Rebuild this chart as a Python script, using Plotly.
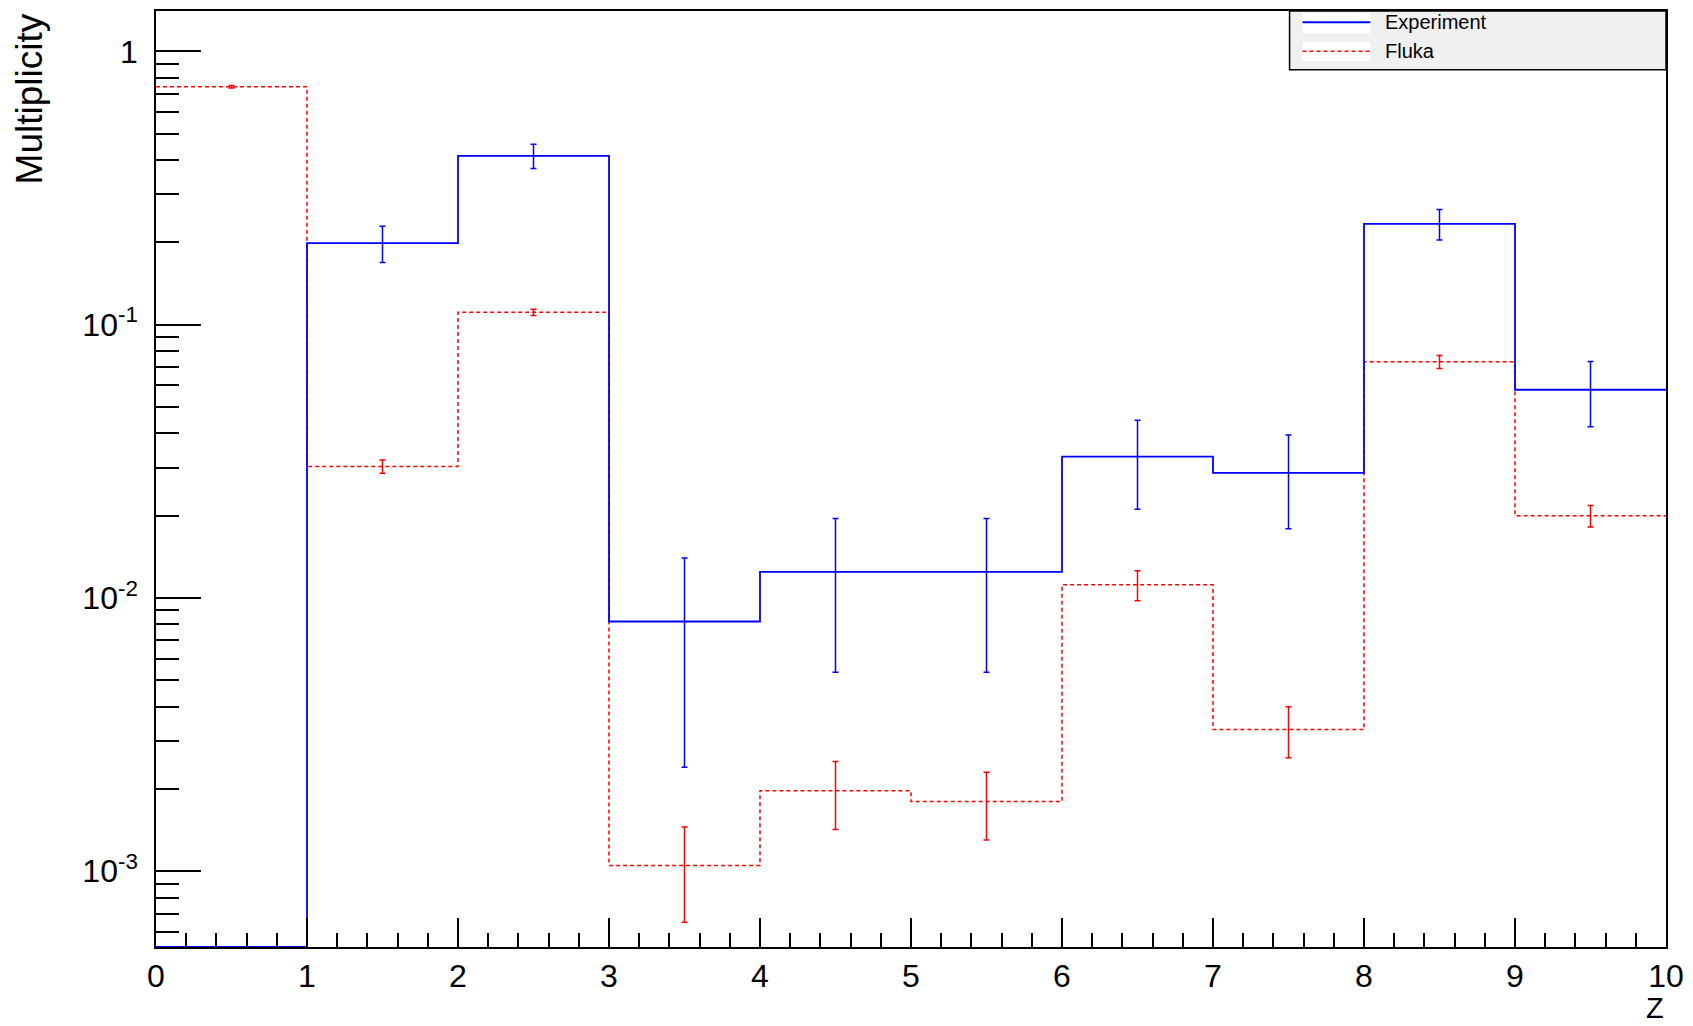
import plotly.graph_objects as go
import numpy as np

# ---- data ----
bin_edges = [0, 1, 2, 3, 4, 5, 6, 7, 8, 9, 10]
bin_centers = [0.5, 1.5, 2.5, 3.5, 4.5, 5.5, 6.5, 7.5, 8.5, 9.5]
experiment = [0.0, 0.199, 0.415, 0.0082, 0.01245, 0.01245, 0.0329, 0.0287, 0.234, 0.0578]
experiment_err = [0.0, 0.030, 0.042, 0.0058, 0.0071, 0.0071, 0.0118, 0.0108, 0.030, 0.0155]
fluka = [0.743, 0.0303, 0.111, 0.00105, 0.00197, 0.0018, 0.01117, 0.0033, 0.0732, 0.0200]
fluka_err = [0.008, 0.0017, 0.003, 0.0004, 0.00055, 0.0005, 0.0014, 0.0007, 0.004, 0.0018]
x_ticks = [0, 1, 2, 3, 4, 5, 6, 7, 8, 9, 10]
y_tickvals = [1e-3, 1e-2, 1e-1, 1]
y_ticktext = ["10<sup>-3</sup>", "10<sup>-2</sup>", "10<sup>-1</sup>", "1"]
series_names = ["Experiment", "Fluka"]

YMIN, YMAX = 5.28e-4, 1.406
FONT = "Liberation Sans Narrow, Liberation Sans, Arial, sans-serif"

def step(vals):
    v = [max(a, YMIN) for a in vals]
    return v + [v[-1]]

fig = go.Figure()

# Fluka histogram (drawn first)
fig.add_trace(go.Scatter(x=bin_edges, y=step(fluka), mode="lines", line_shape="hv",
                         line=dict(color="#ff0000", width=1.5, dash="4px,3px"),
                         showlegend=False, hoverinfo="skip"))
# Experiment histogram
fig.add_trace(go.Scatter(x=bin_edges, y=step(experiment), mode="lines", line_shape="hv",
                         line=dict(color="#0000ff", width=1.8),
                         showlegend=False, hoverinfo="skip"))

# error bars
fx = [c for c, v in zip(bin_centers, fluka) if v > 0]
fy = [v for v in fluka if v > 0]
fe = [e for e, v in zip(fluka_err, fluka) if v > 0]
fig.add_trace(go.Scatter(x=fx, y=fy, mode="markers", marker=dict(size=1, color="#ff0000"),
                         error_y=dict(type="data", array=fe, color="#ff0000", thickness=1.5, width=3),
                         showlegend=False))
ex = [c for c, v in zip(bin_centers, experiment) if v > 0]
ey = [v for v in experiment if v > 0]
ee = [e for e, v in zip(experiment_err, experiment) if v > 0]
fig.add_trace(go.Scatter(x=ex, y=ey, mode="markers", marker=dict(size=1, color="#0000ff"),
                         error_y=dict(type="data", array=ee, color="#0000ff", thickness=1.5, width=3),
                         showlegend=False))

minor_y = [m * 10 ** d for d in range(-4, 1) for m in range(2, 10)]

fig.update_xaxes(range=[0, 10], tickvals=x_ticks, ticktext=[str(t) for t in x_ticks],
                 ticks="inside", ticklen=29, tickwidth=1.5, tickcolor="black",
                 showline=True, linecolor="black", linewidth=1.5, mirror=True,
                 showgrid=False, zeroline=False,
                 tickfont=dict(family=FONT, size=32, color="black"),
                 minor=dict(dtick=0.2, tick0=0, ticks="inside", ticklen=14, tickwidth=1.5,
                            tickcolor="black", showgrid=False))
fig.update_yaxes(type="log", range=[np.log10(YMIN), np.log10(YMAX)],
                 tickmode="array", tickvals=y_tickvals, ticktext=y_ticktext,
                 ticks="inside", ticklen=45, tickwidth=1.5, tickcolor="black",
                 showline=True, linecolor="black", linewidth=1.5, mirror=True,
                 showgrid=False, zeroline=False, ticklabelstandoff=10,
                 tickfont=dict(family=FONT, size=32, color="black"),
                 minor=dict(tickmode="array", tickvals=minor_y, ticks="inside", ticklen=23,
                            tickwidth=1.5, tickcolor="black", showgrid=False))

# axis titles (ROOT style)
annotations = [
    dict(text="Multiplicity", textangle=-90, xref="paper", yref="paper",
         x=-0.0835, y=1.0, xanchor="center", yanchor="top", showarrow=False,
         font=dict(family=FONT, size=37, color="black")),
    dict(text="Z", xref="paper", yref="paper", x=1.0, y=-0.0842,
         xanchor="right", yanchor="bottom", showarrow=False,
         font=dict(family=FONT, size=29, color="black")),
]

# custom legend (ROOT TLegend look)
leg_x0, leg_x1, leg_y0, leg_y1 = 0.7507, 1.0, 0.9371, 1.0
samp_x0, samp_x1 = 0.7593, 0.8042
shapes = [
    dict(type="rect", xref="paper", yref="paper", x0=leg_x0, x1=leg_x1, y0=leg_y0, y1=leg_y1,
         fillcolor="#f0f0f0", line=dict(color="black", width=1.5), layer="above"),
    dict(type="rect", xref="paper", yref="paper", x0=samp_x0, x1=samp_x1, y0=0.9760, y1=0.9975,
         fillcolor="white", line=dict(width=0), layer="above"),
    dict(type="rect", xref="paper", yref="paper", x0=samp_x0, x1=samp_x1, y0=0.9465, y1=0.9670,
         fillcolor="white", line=dict(width=0), layer="above"),
    dict(type="line", xref="paper", yref="paper", x0=samp_x0, x1=samp_x1, y0=0.988, y1=0.988,
         line=dict(color="#0000ff", width=1.8), layer="above"),
    dict(type="line", xref="paper", yref="paper", x0=samp_x0, x1=samp_x1, y0=0.957, y1=0.957,
         line=dict(color="#ff0000", width=1.5, dash="4px,3px"), layer="above"),
]
for name, yy in zip(series_names, [0.988, 0.957]):
    annotations.append(dict(text=name, xref="paper", yref="paper", x=0.8128, y=yy,
                            xanchor="left", yanchor="middle", showarrow=False,
                            font=dict(family=FONT, size=20, color="black")))

fig.update_layout(width=1693, height=1026, margin=dict(l=156, r=25, t=9, b=79),
                  plot_bgcolor="white", paper_bgcolor="white",
                  annotations=annotations, shapes=shapes, showlegend=False)

fig.write_html("out.html")
